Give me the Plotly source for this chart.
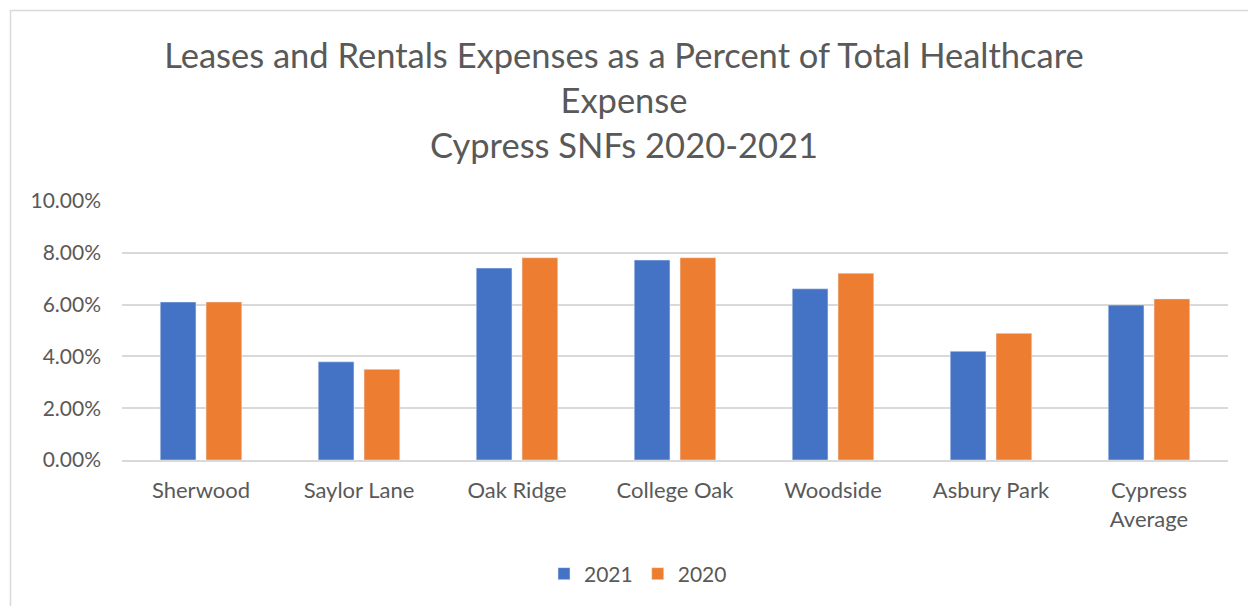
import plotly.graph_objects as go

# data
facilities = ["Sherwood", "Saylor Lane", "Oak Ridge", "College Oak",
              "Woodside", "Asbury Park", "Cypress<br>Average"]
pct_2021 = [0.0610, 0.0379, 0.0741, 0.0772, 0.0661, 0.0420, 0.0598]
pct_2020 = [0.0610, 0.0350, 0.0781, 0.0781, 0.0721, 0.0489, 0.0622]

W, H = 1248, 606
L, R, T, B = 122, 20, 201, 146
pw, ph = W - L - R, H - T - B

fig = go.Figure()
fig.add_trace(go.Bar(x=facilities, y=pct_2021, name="2021", marker_color="#4472C4"))
fig.add_trace(go.Bar(x=facilities, y=pct_2020, name="2020", marker_color="#ED7D31"))

grey = "#595959"
fig.update_layout(
    width=W, height=H,
    margin=dict(l=L, r=R, t=T, b=B),
    paper_bgcolor="white", plot_bgcolor="white",
    font=dict(family="Lato, Noto Sans, sans-serif", color=grey, size=21),
    title=dict(
        text="Leases and Rentals Expenses as a Percent of Total Healthcare<br>Expense<br>Cypress SNFs 2020-2021",
        x=0.5, xanchor="center", y=1 - 68 / H, yanchor="middle",
        font=dict(size=34.5, color=grey),
    ),
    barmode="group", bargap=0.42, bargroupgap=0.22,
    legend=dict(orientation="h", x=(638 - L) / pw, xanchor="center",
                y=-(574 - T - ph) / ph, yanchor="middle",
                font=dict(size=21, color=grey), itemwidth=30),
    showlegend=True,
)
fig.update_yaxes(range=[0, 0.10], dtick=0.02, tickformat=".2%",
                 gridcolor="#d9d9d9", gridwidth=1.5, zeroline=False,
                 showline=False, ticks="", ticklabelstandoff=20)
fig.update_xaxes(showline=True, linecolor="#d9d9d9", linewidth=1.5,
                 ticks="", showgrid=False, ticklabelstandoff=10,
                 tickfont=dict(size=22))

# outer chart border (only top and left edges visible in the reference)
fig.add_shape(type="rect", xref="paper", yref="paper",
              x0=(10.5 - L) / pw, x1=(W + 10 - L) / pw,
              y0=-(H + 10 - T - ph) / ph, y1=1 + (T - 10.5) / ph,
              line=dict(color="#d9d9d9", width=1.5), layer="below")

fig.write_html("out.html", config={"displayModeBar": False},
               post_script="document.body.style.margin='0';")
